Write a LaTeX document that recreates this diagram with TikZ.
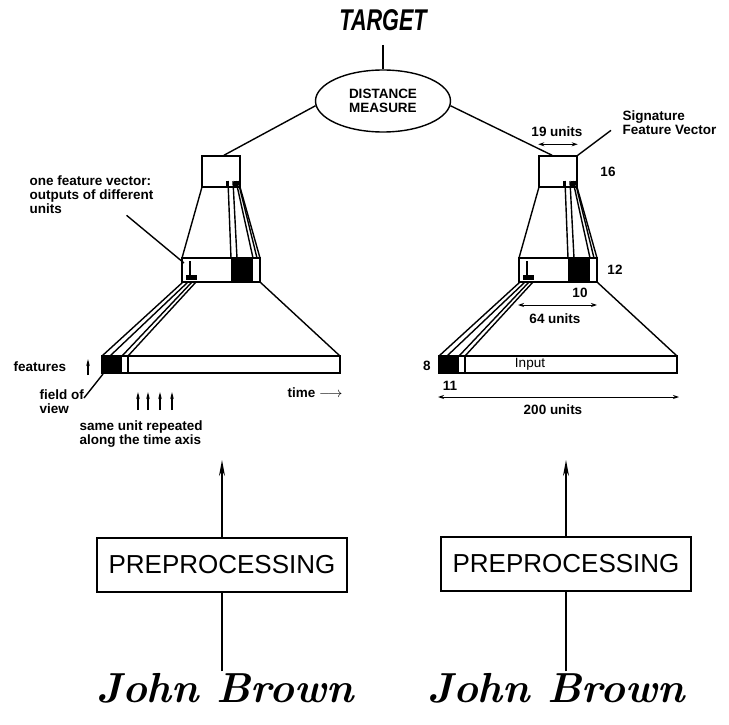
\documentclass[tikz,border=0pt]{standalone}
\usepackage{fontspec}
\setsansfont{Liberation Sans}
\usetikzlibrary{arrows.meta,shapes.geometric}

% one time-delay network, drawn at the left position
\newcommand{\tdnnnet}[1]{%
\node[draw,minimum width=38pt,minimum height=31pt,inner sep=0pt] (fv#1) at (221,171.5) {};
\fill (226,181) rectangle (229,187);
\fill (234,181) rectangle (238,187);
\draw (202,187) -- (182,258);
\draw (240,187) -- (260,258);
\draw (228,181) -- (231,258) (233,181) -- (237,258) (236,181) -- (253,258) (238,181) -- (257,258);
\draw (182,258) rectangle (260,282);
\fill (231,258) rectangle (253,282);
\draw (190,261) -- (190,276);
\fill (186,275) rectangle (197,280);
\coordinate (fvc#1) at (184,263);
\draw (260,282) -- (340,356);
\draw (183,282) -- (102,356) (188,282) -- (110,356) (192,282) -- (122,356) (196,282) -- (128,356);
\draw (102,356) rectangle (340,373);
\fill (102,356) rectangle (122,373);
\draw (128,356) -- (128,373);
}

\begin{document}
\begin{tikzpicture}[x=1pt,y=-1pt,line width=1.4pt,
  every node/.style={font=\sffamily\bfseries\fontsize{13.5}{14}\selectfont,inner sep=1pt},
  dim/.style={{Stealth[length=6pt,width=4pt]}-{Stealth[length=6pt,width=4pt]},line width=1pt},
  up/.style={-{Stealth[length=7pt,width=3.5pt]},line width=1.2pt},
  bigup/.style={-{Stealth[length=16pt,width=6pt]},line width=1.6pt},
  ppbox/.style={draw,line width=1.6pt,minimum width=250pt,minimum height=54pt,
    font=\sffamily\fontsize{26}{26}\selectfont},
  sig/.style={font=\rmfamily\bfseries\itshape\fontsize{42}{42}\selectfont}]
\useasboundingbox (0,0) rectangle (729,725);

\node[font=\sffamily\bfseries\itshape\fontsize{30}{30}\selectfont,xscale=.72,inner sep=0pt] (target) at (383,20) {TARGET};
\coordinate (tgt) at (383,45);
\node[draw,ellipse,minimum width=135pt,minimum height=62pt,inner sep=0pt,align=center] (dm) at (383,101) {DISTANCE\\MEASURE};
\draw (tgt) -- (dm);

\tdnnnet{L}
\begin{scope}[xshift=337pt]
\tdnnnet{R}
\end{scope}

\draw (dm.184) -- (fvL.80);
\draw (dm.356) -- (fvR.110);

% left labels
\node[anchor=north west,align=left] (ofv) at (28,174) {one feature vector:\\outputs of different\\units};
\draw ([xshift=35pt]ofv.south) -- (fvcL);
\node[anchor=west] (feat) at (12,367) {features};
\coordinate (fta) at (88,375);
\coordinate (ftb) at (88,359);
\draw[up] (fta) -- (ftb);
\node[anchor=north west,align=left] (fov) at (38,388) {field of\\view};
\coordinate (fovp) at (103,374);
\draw (84,398) -- (fovp);
\foreach \xx in {138,148,160,172}
  \draw[up] (\xx,410) -- (\xx,392);
\node[anchor=north west,align=left] (sut) at (78,419) {same unit repeated\\along the time axis};
\node[anchor=west] (time) at (286,393) {time $\longrightarrow$};

% right labels
\node[anchor=north west,align=left] (sfv) at (621,109) {Signature\\Feature Vector};
\draw ([xshift=-10pt,yshift=6pt]sfv.south west) -- (fvR.north east);
\node (n19) at (557,132) {19 units};
\draw[dim] ([yshift=11pt]fvR.north west) -- ([yshift=11pt]fvR.north east);
\node (n16) at (608,172) {16};
\node (n12) at (615,270) {12};
\node (n10) at (580,293) {10};
\coordinate (d64a) at (518,305);
\coordinate (d64b) at (597,305);
\draw[dim] (d64a) -- (d64b);
\node (n64) at (555,319) {64 units};
\node (n8) at (427,366) {8};
\node[font=\sffamily\fontsize{13.5}{14}\selectfont] (inp) at (530,364) {Input};
\node (n11) at (450,386) {11};
\coordinate (d200a) at (438,397);
\coordinate (d200b) at (679,397);
\draw[dim] (d200a) -- (d200b);
\node (n200) at (553,410) {200 units};

% preprocessing and signatures
\node[ppbox] (ppL) at (222,565) {PREPROCESSING};
\node[ppbox] (ppR) at (566,564) {PREPROCESSING};
\coordinate (inL) at (222,460);
\coordinate (inR) at (566,460);
\draw[bigup] (ppL.north) -- (inL);
\draw[bigup] (ppR.north) -- (inR);
\node[sig] (sigL) at (225,688) {John Brown};
\node[sig] (sigR) at (556,688) {John Brown};
\draw (sigL.north -| ppL.south) -- (ppL.south);
\draw (sigR.north -| ppR.south) -- (ppR.south);
\end{tikzpicture}
\end{document}
